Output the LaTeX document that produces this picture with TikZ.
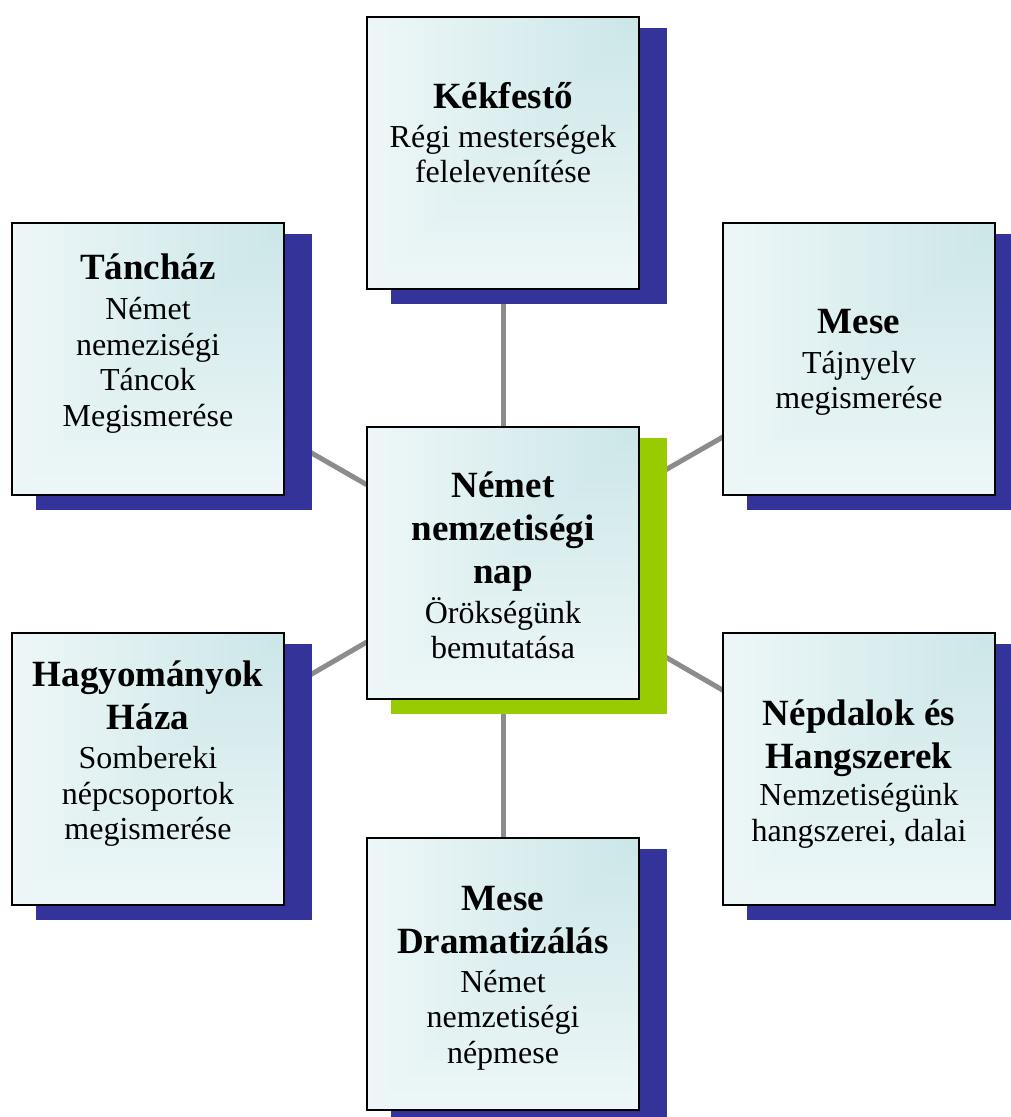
\documentclass[tikz,border=0pt]{standalone}
\usepackage{fontspec}
\setmainfont{Liberation Serif}
\definecolor{shblue}{HTML}{333399}
\definecolor{shgreen}{HTML}{99CC00}
\definecolor{linkgray}{HTML}{8C8C8C}
\pgfdeclarelayer{background}
\pgfsetlayers{background,main}
\pgfdeclarefunctionalshading{cornergrad}{\pgfpoint{-50bp}{-50bp}}{\pgfpoint{50bp}{50bp}}{}{
  2 copy gt {exch} if pop 50 add 100 div
  dup dup
  0.12 mul 1 exch sub 3 1 roll
  0.13 mul 1 exch sub 3 1 roll
  0.27 mul 1 exch sub 3 1 roll
}
\tikzset{
  card/.style={draw=black, line width=2pt, minimum width=272pt, minimum height=272pt,
    inner sep=0pt, shade, shading=cornergrad},
  ttltext/.style={font=\fontsize{37}{43}\selectfont\bfseries, align=center, anchor=north, inner sep=0pt},
  subtext/.style={font=\fontsize{32}{35.5}\selectfont, align=center, anchor=north, inner sep=0pt},
  link/.style={draw=linkgray, line width=5pt},
}
\newcommand{\cardshadow}[2]{%
  \fill[#2] ([shift={(25,14)}]#1.south west) rectangle ([shift={(27,12)}]#1.north east);}
\begin{document}
\begin{tikzpicture}[x=1pt, y=-1pt]
\useasboundingbox (0,0) rectangle (1010,1117);
% boxes
\node[card] (kek) at (503,153) {};
\node[card] (tanc) at (148,359) {};
\node[card] (mese) at (859,359) {};
\node[card] (ctr) at (503,563) {};
\node[card] (hagy) at (148,769) {};
\node[card] (nepd) at (859,769) {};
\node[card] (dram) at (503,974) {};
% connectors and shadows behind
\begin{pgfonlayer}{background}
\draw[link] (ctr.center) -- (kek.center);
\draw[link] (ctr.center) -- (tanc.center);
\draw[link] (ctr.center) -- (mese.center);
\draw[link] (ctr.center) -- (hagy.center);
\draw[link] (ctr.center) -- (nepd.center);
\draw[link] (ctr.center) -- (dram.center);
\cardshadow{kek}{shblue}
\cardshadow{tanc}{shblue}
\cardshadow{mese}{shblue}
\cardshadow{ctr}{shgreen}
\cardshadow{hagy}{shblue}
\cardshadow{nepd}{shblue}
\cardshadow{dram}{shblue}
\end{pgfonlayer}
% texts
\node[ttltext] (kekt) at (503,78.2) {\strut Kékfestő};
\node[subtext] (keks) at (503,122.2) {\strut Régi mesterségek\\felelevenítése};
\node[ttltext] (tanct) at (148,249.2) {\strut Táncház};
\node[subtext] (tancs) at (148,294.5) {\strut Német\\nemeziségi\\Táncok\\Megismerése};
\node[ttltext] (meset) at (859,303.2) {\strut Mese};
\node[subtext] (meses) at (859,348.2) {\strut Tájnyelv\\megismerése};
\node[ttltext] (ctrt) at (503,467.2) {\strut Német\\nemzetiségi\\nap};
\node[subtext] (ctrs) at (503,597.2) {\strut Örökségünk\\bemutatása};
\node[ttltext] (hagyt) at (148,655.9) {\strut Hagyományok\\Háza};
\node[subtext] (hagys) at (148,743.8) {\strut Sombereki\\népcsoportok\\megismerése};
\node[ttltext] (nepdt) at (859,694.9) {\strut Népdalok és\\Hangszerek};
\node[subtext] (nepds) at (859,780.5) {\strut Nemzetiségünk\\hangszerei, dalai};
\node[ttltext] (dramt) at (503,879.9) {\strut Mese\\Dramatizálás};
\node[subtext] (drams) at (503,967.2) {\strut Német\\nemzetiségi\\népmese};
\end{tikzpicture}
\end{document}
